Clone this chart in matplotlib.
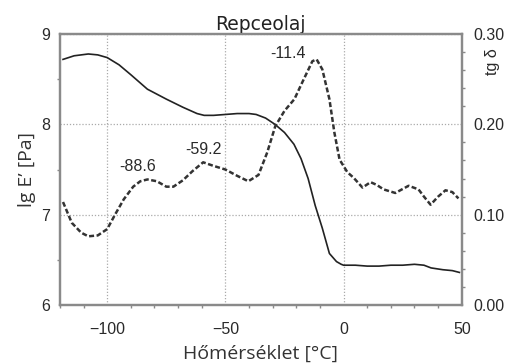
import matplotlib
matplotlib.use("Agg")
import matplotlib.pyplot as plt
from matplotlib.ticker import MultipleLocator, FormatStrFormatter

# E' (lg, Pa) vs temperature
temp_e = [-118.7, -114, -108, -104, -100, -95, -90, -83, -75, -68, -62, -59, -55, -50,
          -45, -40, -37, -33, -29, -25, -21, -18, -15, -12, -9, -6, -3, -1, 0,
          5, 10, 15, 20, 25, 30, 34, 37, 42, 46, 49]
lg_e = [8.72, 8.76, 8.78, 8.77, 8.74, 8.66, 8.55, 8.39, 8.28, 8.19, 8.12, 8.10, 8.10, 8.11,
        8.12, 8.12, 8.11, 8.07, 8.00, 7.91, 7.78, 7.62, 7.40, 7.10, 6.85, 6.57, 6.48, 6.45, 6.44,
        6.44, 6.43, 6.43, 6.44, 6.44, 6.45, 6.44, 6.41, 6.39, 6.38, 6.36]

# tg delta vs temperature
temp_d = [-118.7, -115, -111, -108, -104, -100, -96.7, -93, -89, -86, -83, -79, -75, -72,
          -68, -64, -59.4, -55, -50, -45, -40.3, -36, -32.3, -28.9, -25, -20.8, -17.4,
          -13.2, -11.4, -9, -6, -3.9, -1.7, 1.6, 4.2, 8, 11.4, 14, 16.9, 21.9, 27.5,
          31.7, 34, 36.8, 40, 43.1, 46, 48.6]
tg_d = [0.114, 0.091, 0.080, 0.076, 0.077, 0.084, 0.100, 0.117, 0.131, 0.137, 0.139, 0.137,
        0.131, 0.131, 0.138, 0.148, 0.158, 0.154, 0.150, 0.143, 0.137, 0.144, 0.169, 0.198,
        0.215, 0.228, 0.247, 0.270, 0.272, 0.261, 0.228, 0.191, 0.161, 0.147, 0.141, 0.130,
        0.136, 0.133, 0.128, 0.124, 0.132, 0.128, 0.120, 0.111, 0.120, 0.127, 0.125, 0.118]

# peak labels: (text, x, y on tg axis)
peak_txt = ["-88.6", "-59.2", "-11.4"]
peak_x = [-87, -59.4, -23.4]
peak_y = [0.153, 0.172, 0.278]

spine_c = "#8a8a8a"
txt_c = "#2a2a2a"
tick_font = "Liberation Sans"
label_font = "Open Sans"

fig = plt.figure(figsize=(5.08, 3.63), dpi=100)
ax = fig.add_axes([0.118, 0.160, 0.791, 0.746])
ax2 = ax.twinx()

ax.plot(temp_e, lg_e, color="#222222", lw=1.2, zorder=3)
ax2.plot(temp_d, tg_d, color="#333333", lw=1.8, ls=(0, (2.0, 1.0)), zorder=3)

ax.set_xlim(-120, 50)
ax.set_ylim(6, 9)
ax2.set_ylim(0, 0.30)

ax.xaxis.set_major_locator(MultipleLocator(50))
ax.xaxis.set_minor_locator(MultipleLocator(10))
ax.yaxis.set_major_locator(MultipleLocator(1))
ax.yaxis.set_minor_locator(MultipleLocator(0.5))
ax2.yaxis.set_major_locator(MultipleLocator(0.1))
ax2.yaxis.set_minor_locator(MultipleLocator(0.02))
ax2.yaxis.set_major_formatter(FormatStrFormatter("%.2f"))

ax.grid(True, which="major", color="#aaaaaa", ls=(0, (1, 1.5)), lw=0.9)
ax.set_axisbelow(True)

for a in (ax, ax2):
    for s in a.spines.values():
        s.set_color(spine_c)
        s.set_linewidth(1.6)
    a.tick_params(which="major", length=0, labelsize=11.5, labelcolor=txt_c)
    a.tick_params(which="minor", length=2.5, width=1, color=spine_c, direction="out")
    for lab in a.get_xticklabels() + a.get_yticklabels():
        lab.set_fontfamily(tick_font)
ax.tick_params(axis="x", pad=12)
ax.tick_params(axis="y", pad=7)
ax2.tick_params(axis="y", pad=8)

ax.set_title("Repceolaj", fontsize=13.5, family="DejaVu Sans", color="#222222", pad=3)
ax.set_xlabel("Hőmérséklet [°C]", fontsize=14, family=label_font, color="#333333", labelpad=6)
ax.set_ylabel("lg E’ [Pa]", fontsize=14, family=label_font, color="#333333", labelpad=4)
fig.text(0.970, 0.829, "tg δ", rotation=90, fontsize=11.5, family=tick_font,
         color=txt_c, ha="center", va="center")

for t, x, y in zip(peak_txt, peak_x, peak_y):
    ax2.text(x, y, t, fontsize=11.5, family=tick_font, color=txt_c, ha="center", va="center")

fig.savefig("out.png", dpi=100)
